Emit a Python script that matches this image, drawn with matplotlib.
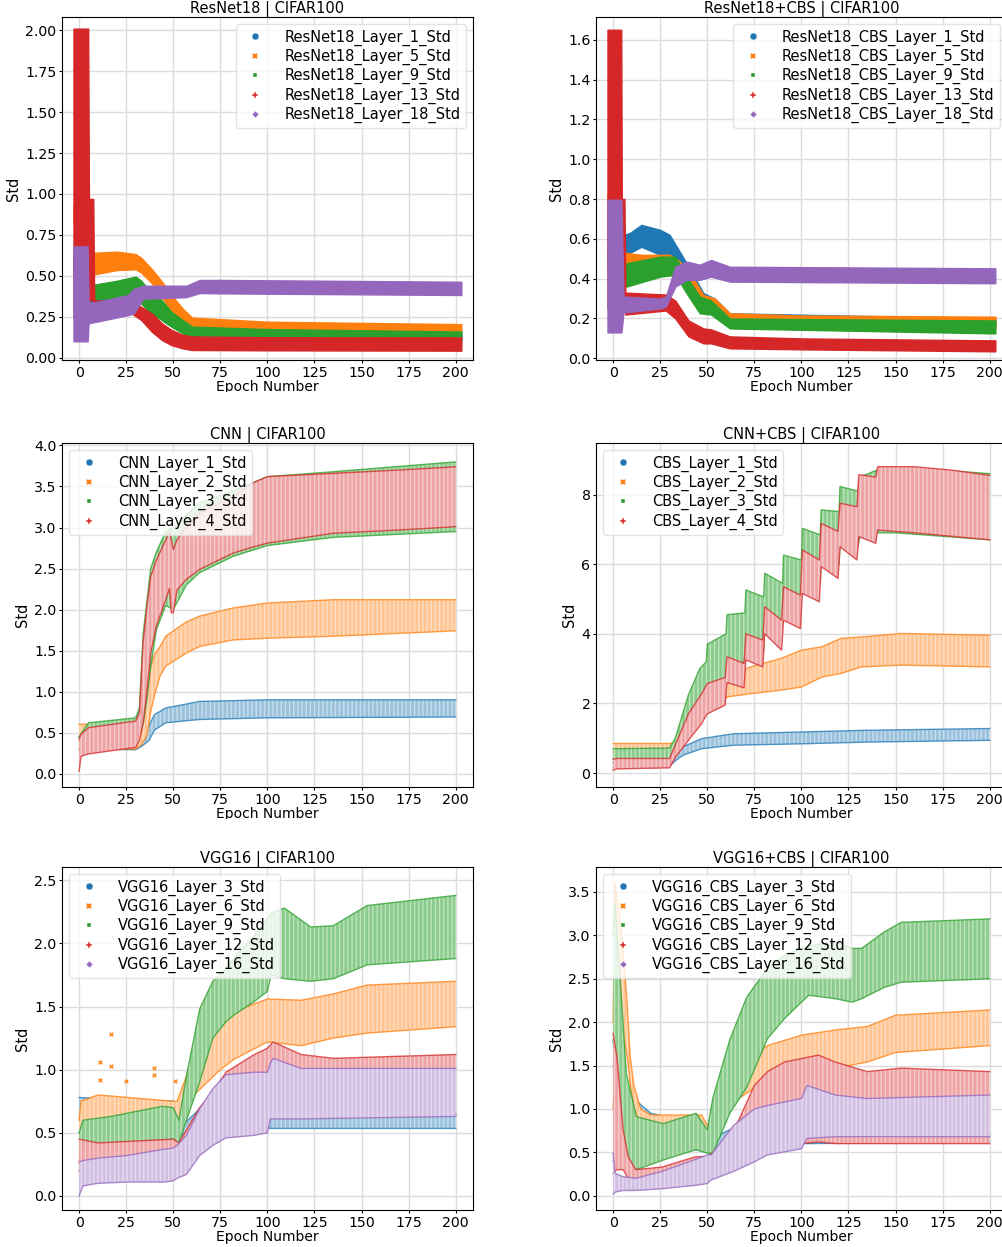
import matplotlib
matplotlib.use('Agg')
import matplotlib.pyplot as plt
from matplotlib.colors import to_rgb
from matplotlib.lines import Line2D
from matplotlib.transforms import Bbox, TransformedBbox

plt.rcParams['font.family'] = 'DejaVu Sans'
plt.rcParams['font.size'] = 10

COLORS = ['#1f77b4', '#ff7f0e', '#2ca02c', '#d62728', '#9467bd']
MARKERS = ['o', 'X', (4, 0, 45), 'P', (4, 0, 0)]

# ---------------- ResNet18 | CIFAR100 (band = min/max std per epoch) ----------------
R18_L1_EP = [-3, 4, 6, 9, 33, 45, 60, 203]
R18_L1_LO = [0.45, 0.45, 0.34, 0.33, 0.35, 0.22, 0.12, 0.11]
R18_L1_HI = [0.62, 0.62, 0.40, 0.38, 0.40, 0.30, 0.16, 0.15]
R18_L5_EP = [-3, 0, 3, 6, 20, 30, 33, 39, 44, 49, 55, 60, 100, 203]
R18_L5_LO = [0.82, 0.82, 0.55, 0.505, 0.535, 0.54, 0.52, 0.45, 0.37, 0.28, 0.22, 0.185, 0.17, 0.16]
R18_L5_HI = [0.93, 0.93, 0.66, 0.64, 0.648, 0.633, 0.61, 0.536, 0.464, 0.383, 0.30, 0.245, 0.22, 0.205]
R18_L9_EP = [5, 7, 20, 30, 33, 38, 44, 49, 55, 60, 100, 203]
R18_L9_LO = [0.35, 0.36, 0.363, 0.363, 0.33, 0.27, 0.23, 0.19, 0.149, 0.128, 0.115, 0.105]
R18_L9_HI = [0.44, 0.444, 0.47, 0.495, 0.47, 0.40, 0.35, 0.28, 0.23, 0.19, 0.175, 0.16]
R18_L13_EP = [-3, 4.8, 5.2, 7.5, 8, 28, 33, 38.6, 44, 49, 55, 60, 100, 203]
R18_L13_LO = [0.25, 0.25, 0.35, 0.35, 0.27, 0.27, 0.23, 0.159, 0.108, 0.077, 0.057, 0.047, 0.045, 0.043]
R18_L13_HI = [2.01, 2.01, 0.97, 0.97, 0.35, 0.35, 0.31, 0.27, 0.21, 0.17, 0.14, 0.13, 0.125, 0.124]
R18_L18_EP = [-3, 4.5, 5, 26, 29, 34, 57, 64, 75, 203]
R18_L18_LO = [0.10, 0.10, 0.21, 0.26, 0.27, 0.36, 0.37, 0.395, 0.393, 0.383]
R18_L18_HI = [0.68, 0.68, 0.33, 0.383, 0.42, 0.44, 0.44, 0.475, 0.475, 0.464]

# ---------------- ResNet18+CBS | CIFAR100 ----------------
RC_L1_EP = [-3, 4, 6, 9, 15, 25, 30, 38, 48, 54, 62, 203]
RC_L1_LO = [0.47, 0.47, 0.50, 0.53, 0.56, 0.52, 0.50, 0.40, 0.26, 0.24, 0.17, 0.16]
RC_L1_HI = [0.60, 0.60, 0.62, 0.63, 0.67, 0.645, 0.62, 0.494, 0.327, 0.30, 0.226, 0.20]
RC_L5_EP = [-3, 4.5, 6, 15, 30, 35, 43, 48, 54, 62, 100, 203]
RC_L5_LO = [0.50, 0.50, 0.41, 0.41, 0.42, 0.40, 0.30, 0.24, 0.22, 0.17, 0.155, 0.15]
RC_L5_HI = [0.83, 0.83, 0.53, 0.52, 0.52, 0.49, 0.394, 0.318, 0.30, 0.226, 0.215, 0.209]
RC_L9_EP = [6, 7, 25, 33, 39, 46, 52, 62, 203]
RC_L9_LO = [0.37, 0.36, 0.41, 0.42, 0.327, 0.226, 0.22, 0.15, 0.125]
RC_L9_HI = [0.45, 0.477, 0.511, 0.51, 0.41, 0.31, 0.29, 0.20, 0.19]
RC_L13_EP = [-3, 4.3, 4.6, 6, 6.5, 28, 33, 40, 48, 52, 62, 100, 203]
RC_L13_LO = [0.25, 0.25, 0.25, 0.25, 0.22, 0.24, 0.20, 0.11, 0.075, 0.075, 0.05, 0.045, 0.035]
RC_L13_HI = [1.65, 1.65, 0.80, 0.80, 0.33, 0.32, 0.29, 0.19, 0.15, 0.145, 0.11, 0.10, 0.09]
RC_L18_EP = [-3, 4.4, 5.5, 25, 28, 33, 39, 46, 52, 62, 203]
RC_L18_LO = [0.13, 0.13, 0.23, 0.25, 0.26, 0.36, 0.394, 0.394, 0.41, 0.385, 0.377]
RC_L18_HI = [0.796, 0.796, 0.31, 0.30, 0.31, 0.46, 0.486, 0.47, 0.494, 0.46, 0.452]

# ---------------- CNN | CIFAR100 ----------------
CNN_L1_EP = [0, 10, 30, 33, 37, 40, 46, 64, 100, 200]
CNN_L1_LO = [0.29, 0.30, 0.29, 0.33, 0.40, 0.53, 0.62, 0.66, 0.68, 0.69]
CNN_L1_HI = [0.45, 0.48, 0.50, 0.45, 0.58, 0.72, 0.80, 0.88, 0.90, 0.90]
CNN_L2_EP = [0, 30, 33, 36, 38, 40, 43, 46, 57, 64, 82, 100, 135, 200]
CNN_L2_LO = [0.30, 0.30, 0.35, 0.46, 0.75, 0.95, 1.19, 1.31, 1.47, 1.55, 1.63, 1.65, 1.675, 1.74]
CNN_L2_HI = [0.60, 0.62, 0.50, 1.00, 1.30, 1.45, 1.55, 1.675, 1.85, 1.92, 2.02, 2.08, 2.12, 2.12]
CNN_L3_EP = [0, 5, 30, 32, 34, 36, 38, 41, 46, 50, 57, 64, 82, 100, 135, 200]
CNN_L3_LO = [0.40, 0.45, 0.50, 0.50, 0.60, 0.90, 1.30, 1.75, 2.05, 2.00, 2.30, 2.45, 2.65, 2.78, 2.88, 2.95]
CNN_L3_HI = [0.45, 0.62, 0.68, 0.80, 1.70, 2.10, 2.50, 2.70, 2.95, 3.00, 3.15, 3.30, 3.45, 3.62, 3.68, 3.80]
CNN_L4_EP = [0, 1, 5, 30, 32, 34, 36, 38, 41, 46, 48, 49, 50, 52, 57, 64, 82, 92, 100, 135, 170, 200]
CNN_L4_LO = [0.03, 0.21, 0.24, 0.32, 0.40, 0.62, 1.00, 1.47, 1.80, 2.12, 2.26, 1.96, 1.96, 2.24, 2.37, 2.49,
             2.69, 2.76, 2.81, 2.93, 2.97, 3.01]
CNN_L4_HI = [0.42, 0.48, 0.56, 0.64, 0.74, 1.60, 2.04, 2.40, 2.60, 2.85, 2.95, 2.85, 2.73, 2.85, 3.01, 3.18,
             3.38, 3.54, 3.62, 3.66, 3.70, 3.74]

# ---------------- CNN+CBS | CIFAR100 ----------------
CBS_L1_EP = [0, 30, 33, 37, 47, 64, 100, 135, 200]
CBS_L1_LO = [0.15, 0.20, 0.35, 0.51, 0.70, 0.80, 0.84, 0.89, 0.94]
CBS_L1_HI = [0.40, 0.45, 0.50, 0.75, 0.99, 1.13, 1.18, 1.23, 1.28]
CBS_L2_EP = [0, 30, 33, 40, 46, 52, 61, 73, 89, 100, 111, 121, 132, 153, 200]
CBS_L2_LO = [0.60, 0.62, 0.70, 1.30, 1.60, 1.90, 2.19, 2.28, 2.38, 2.47, 2.76, 2.86, 3.05, 3.10, 3.05]
CBS_L2_HI = [0.85, 0.85, 0.90, 1.90, 2.30, 2.50, 2.80, 3.05, 3.29, 3.53, 3.63, 3.87, 3.91, 4.01, 3.96]
CBS_L3_EP = [0, 30, 33, 40, 46, 49.5, 50, 60, 60.5, 70, 70.5, 80, 80.5, 90, 90.5, 100, 100.5, 110, 110.5,
             120, 120.5, 130, 131, 140, 150, 175, 200]
CBS_L3_LO = [0.30, 0.35, 0.50, 1.50, 1.80, 2.00, 2.00, 2.50, 3.00, 3.20, 3.50, 3.50, 4.30, 4.30, 4.90, 4.90,
             5.50, 5.50, 6.00, 6.00, 6.50, 6.50, 6.80, 6.90, 6.90, 6.80, 6.70]
CBS_L3_HI = [0.70, 0.72, 1.00, 2.25, 3.00, 3.20, 3.70, 4.00, 4.55, 4.60, 5.26, 5.06, 5.74, 5.45, 6.26, 6.12,
             7.03, 6.84, 7.56, 7.51, 8.23, 8.10, 8.50, 8.70, 8.75, 8.70, 8.60]
CBS_L4_EP = [0, 2, 30, 33, 40, 47, 50, 59.5, 60.5, 69.5, 70.5, 79.5, 80.5, 89.5, 90.5, 99.5, 100.5, 109.5,
             110.5, 119.5, 120.5, 129.5, 130.5, 139.5, 140.5, 160, 180, 200]
CBS_L4_LO = [0.08, 0.12, 0.15, 0.45, 0.94, 1.42, 1.70, 1.95, 2.60, 2.45, 3.25, 3.05, 4.00, 3.53, 4.39, 4.15,
             5.16, 4.92, 5.93, 5.59, 6.50, 6.12, 6.79, 6.60, 6.98, 6.90, 6.80, 6.70]
CBS_L4_HI = [0.40, 0.42, 0.42, 0.80, 1.70, 2.28, 2.57, 2.75, 3.34, 3.15, 4.00, 3.82, 4.78, 4.39, 5.35, 5.11,
             6.41, 6.12, 7.17, 6.94, 7.75, 7.65, 8.57, 8.50, 8.80, 8.80, 8.70, 8.55]

# ---------------- VGG16 | CIFAR100 ----------------
VGG_L3_EP = [0, 50, 52, 57, 64, 75, 100, 101, 200]
VGG_L3_LO = [0.50, 0.50, 0.45, 0.51, 0.56, 0.55, 0.55, 0.535, 0.535]
VGG_L3_HI = [0.78, 0.75, 0.55, 0.59, 0.69, 0.70, 0.70, 0.64, 0.64]
VGG_L6_EP = [0, 1, 10, 50, 52, 57, 61, 68, 75, 82, 100, 118, 135, 153, 200]
VGG_L6_LO = [0.25, 0.45, 0.50, 0.50, 0.45, 0.65, 0.80, 0.90, 1.00, 1.08, 1.22, 1.19, 1.25, 1.29, 1.34]
VGG_L6_HI = [0.60, 0.75, 0.80, 0.75, 0.75, 0.95, 1.17, 1.27, 1.38, 1.46, 1.56, 1.55, 1.60, 1.67, 1.70]
VGG_L9_EP = [0, 2, 17, 44, 50, 53, 57, 64, 71, 78, 82, 93, 100, 102, 109, 123, 135, 153, 200]
VGG_L9_LO = [0.20, 0.26, 0.37, 0.44, 0.45, 0.42, 0.60, 0.90, 1.25, 1.38, 1.43, 1.54, 1.62, 1.75, 1.72, 1.70,
             1.72, 1.83, 1.88]
VGG_L9_HI = [0.50, 0.60, 0.63, 0.71, 0.70, 0.60, 0.95, 1.48, 1.70, 1.80, 1.88, 2.06, 2.20, 2.24, 2.28, 2.13,
             2.14, 2.30, 2.38]
VGG_L12_EP = [0, 10, 50, 53, 64, 71, 78, 93, 100, 103, 118, 135, 200]
VGG_L12_LO = [0.20, 0.25, 0.30, 0.30, 0.45, 0.60, 0.70, 0.75, 0.78, 0.65, 0.65, 0.65, 0.65]
VGG_L12_HI = [0.45, 0.42, 0.45, 0.42, 0.70, 0.82, 0.98, 1.12, 1.17, 1.22, 1.12, 1.09, 1.12]
VGG_L16_EP = [0, 2, 10, 25, 45, 50, 52, 57, 64, 71, 78, 93, 100, 101.5, 103, 118, 200]
VGG_L16_LO = [0.00, 0.08, 0.10, 0.11, 0.11, 0.12, 0.14, 0.17, 0.32, 0.40, 0.46, 0.48, 0.50, 0.61, 0.61, 0.61, 0.63]
VGG_L16_HI = [0.27, 0.28, 0.30, 0.32, 0.37, 0.38, 0.40, 0.48, 0.69, 0.85, 0.96, 0.98, 0.98, 1.05, 1.09, 1.01, 1.01]
VGG_L6_OUT_EP = [11, 17, 17, 25, 40, 40, 51, 11]
VGG_L6_OUT_Y = [1.06, 1.28, 1.03, 0.91, 1.01, 0.96, 0.91, 0.92]

# ---------------- VGG16+CBS | CIFAR100 ----------------
VC_L3_EP = [0, 5, 12, 20, 30, 50, 53, 58, 62, 75, 100, 103, 200]
VC_L3_LO = [0.40, 0.50, 0.60, 0.65, 0.60, 0.50, 0.48, 0.55, 0.60, 0.60, 0.60, 0.60, 0.62]
VC_L3_HI = [1.50, 1.20, 1.10, 0.95, 0.90, 0.80, 0.60, 0.72, 0.76, 0.75, 0.72, 0.68, 0.70]
VC_L6_EP = [0, 1, 3, 5, 7.5, 9, 11, 14.6, 20, 47, 50, 53, 58, 64, 75, 82, 100, 118, 135, 150, 200]
VC_L6_LO = [1.00, 1.50, 2.00, 1.90, 1.60, 1.30, 1.00, 0.80, 0.75, 0.72, 0.70, 0.60, 0.90, 1.08, 1.24, 1.27,
            1.39, 1.47, 1.54, 1.65, 1.73]
VC_L6_HI = [2.00, 3.60, 3.30, 2.90, 2.20, 1.62, 1.27, 1.00, 0.93, 0.93, 0.81, 0.90, 1.20, 1.35, 1.62, 1.73,
            1.85, 1.91, 1.95, 2.08, 2.14]
VC_L9_EP = [0, 1, 3.5, 5.3, 7, 12.4, 26.6, 44, 50, 53, 62, 71, 82, 91, 100, 104, 118, 127, 132, 144, 153, 200]
VC_L9_LO = [1.80, 1.50, 1.02, 0.45, 0.37, 0.30, 0.41, 0.53, 0.49, 0.49, 0.95, 1.25, 1.81, 2.04, 2.23, 2.31,
            2.27, 2.23, 2.27, 2.40, 2.46, 2.50]
VC_L9_HI = [3.00, 3.38, 2.56, 1.98, 1.41, 0.91, 0.83, 0.95, 0.76, 1.13, 1.80, 2.29, 2.62, 2.77, 2.85, 2.88,
            2.92, 2.85, 2.85, 3.04, 3.15, 3.19]
VC_L12_EP = [0, 2, 5.3, 8, 12, 26, 44, 50, 53, 64, 75, 82, 91, 100, 109, 118, 135, 153, 200]
VC_L12_LO = [0.26, 0.30, 0.30, 0.20, 0.15, 0.15, 0.20, 0.20, 0.25, 0.40, 0.50, 0.55, 0.58, 0.60, 0.62, 0.60,
             0.60, 0.60, 0.60]
VC_L12_HI = [1.87, 1.60, 0.76, 0.45, 0.30, 0.33, 0.45, 0.45, 0.50, 0.74, 1.27, 1.43, 1.54, 1.58, 1.62, 1.54,
             1.43, 1.47, 1.43]
VC_L16_EP = [0, 1, 5, 12, 26, 44, 50, 52, 64, 75, 82, 100, 103, 118, 135, 200]
VC_L16_LO = [0.02, 0.04, 0.06, 0.06, 0.08, 0.12, 0.14, 0.18, 0.28, 0.39, 0.47, 0.54, 0.66, 0.68, 0.68, 0.68]
VC_L16_HI = [0.49, 0.26, 0.22, 0.20, 0.28, 0.42, 0.47, 0.47, 0.81, 1.00, 1.04, 1.12, 1.27, 1.16, 1.12, 1.16]

panels = [
    dict(title='ResNet18 | CIFAR100', solid=True, loc='upper right',
         ylim=(-0.014, 2.081), yticks=[0, 0.25, 0.5, 0.75, 1.0, 1.25, 1.5, 1.75, 2.0], fmt='%.2f',
         box=(62, 17, 411, 343),
         series=[('ResNet18_Layer_1_Std', R18_L1_EP, R18_L1_LO, R18_L1_HI),
                 ('ResNet18_Layer_5_Std', R18_L5_EP, R18_L5_LO, R18_L5_HI),
                 ('ResNet18_Layer_9_Std', R18_L9_EP, R18_L9_LO, R18_L9_HI),
                 ('ResNet18_Layer_13_Std', R18_L13_EP, R18_L13_LO, R18_L13_HI),
                 ('ResNet18_Layer_18_Std', R18_L18_EP, R18_L18_LO, R18_L18_HI)]),
    dict(title='ResNet18+CBS | CIFAR100', solid=True, loc='upper right',
         ylim=(-0.0085, 1.714), yticks=[0, 0.2, 0.4, 0.6, 0.8, 1.0, 1.2, 1.4, 1.6], fmt='%.1f',
         box=(596, 17, 411, 343),
         series=[('ResNet18_CBS_Layer_1_Std', RC_L1_EP, RC_L1_LO, RC_L1_HI),
                 ('ResNet18_CBS_Layer_5_Std', RC_L5_EP, RC_L5_LO, RC_L5_HI),
                 ('ResNet18_CBS_Layer_9_Std', RC_L9_EP, RC_L9_LO, RC_L9_HI),
                 ('ResNet18_CBS_Layer_13_Std', RC_L13_EP, RC_L13_LO, RC_L13_HI),
                 ('ResNet18_CBS_Layer_18_Std', RC_L18_EP, RC_L18_LO, RC_L18_HI)]),
    dict(title='CNN | CIFAR100', solid=False, loc='upper left',
         ylim=(-0.163, 4.03), yticks=[0, 0.5, 1.0, 1.5, 2.0, 2.5, 3.0, 3.5, 4.0], fmt='%.1f',
         box=(62, 443, 411, 344),
         series=[('CNN_Layer_1_Std', CNN_L1_EP, CNN_L1_LO, CNN_L1_HI),
                 ('CNN_Layer_2_Std', CNN_L2_EP, CNN_L2_LO, CNN_L2_HI),
                 ('CNN_Layer_3_Std', CNN_L3_EP, CNN_L3_LO, CNN_L3_HI),
                 ('CNN_Layer_4_Std', CNN_L4_EP, CNN_L4_LO, CNN_L4_HI)]),
    dict(title='CNN+CBS | CIFAR100', solid=False, loc='upper left',
         ylim=(-0.40, 9.48), yticks=[0, 2, 4, 6, 8], fmt='%d',
         box=(596, 443, 411, 344),
         series=[('CBS_Layer_1_Std', CBS_L1_EP, CBS_L1_LO, CBS_L1_HI),
                 ('CBS_Layer_2_Std', CBS_L2_EP, CBS_L2_LO, CBS_L2_HI),
                 ('CBS_Layer_3_Std', CBS_L3_EP, CBS_L3_LO, CBS_L3_HI),
                 ('CBS_Layer_4_Std', CBS_L4_EP, CBS_L4_LO, CBS_L4_HI)]),
    dict(title='VGG16 | CIFAR100', solid=False, loc='upper left',
         ylim=(-0.111, 2.605), yticks=[0, 0.5, 1.0, 1.5, 2.0, 2.5], fmt='%.1f',
         box=(62, 867, 411, 343),
         series=[('VGG16_Layer_3_Std', VGG_L3_EP, VGG_L3_LO, VGG_L3_HI),
                 ('VGG16_Layer_6_Std', VGG_L6_EP, VGG_L6_LO, VGG_L6_HI),
                 ('VGG16_Layer_9_Std', VGG_L9_EP, VGG_L9_LO, VGG_L9_HI),
                 ('VGG16_Layer_12_Std', VGG_L12_EP, VGG_L12_LO, VGG_L12_HI),
                 ('VGG16_Layer_16_Std', VGG_L16_EP, VGG_L16_LO, VGG_L16_HI)]),
    dict(title='VGG16+CBS | CIFAR100', solid=False, loc='upper left',
         ylim=(-0.165, 3.788), yticks=[0, 0.5, 1.0, 1.5, 2.0, 2.5, 3.0, 3.5], fmt='%.1f',
         box=(596, 867, 411, 343),
         series=[('VGG16_CBS_Layer_3_Std', VC_L3_EP, VC_L3_LO, VC_L3_HI),
                 ('VGG16_CBS_Layer_6_Std', VC_L6_EP, VC_L6_LO, VC_L6_HI),
                 ('VGG16_CBS_Layer_9_Std', VC_L9_EP, VC_L9_LO, VC_L9_HI),
                 ('VGG16_CBS_Layer_12_Std', VC_L12_EP, VC_L12_LO, VC_L12_HI),
                 ('VGG16_CBS_Layer_16_Std', VC_L16_EP, VC_L16_LO, VC_L16_HI)]),
]

# how much of each colour the light (small-marker) bands keep
TINT = [0.45, 0.45, 0.55, 0.42, 0.42]

W, H = 1002, 1247
fig = plt.figure(figsize=(W / 100, H / 100), dpi=100)


def tint(c, a):
    r, g, b = to_rgb(c)
    return (1 - a + a * r, 1 - a + a * g, 1 - a + a * b)


# cut lines of the x labels for the two upper rows (the source images were cropped)
clip_rows = {17: 392, 443: 819}

for p in panels:
    x0, y0, w, h = p['box']
    ax = fig.add_axes([x0 / W, 1 - (y0 + h) / H, w / W, h / H])
    ax.set_axisbelow(True)
    ax.grid(True, color='#dcdcdc', lw=1.0)
    handles = []
    for i, (name, ep, lo, hi) in enumerate(p['series']):
        c = COLORS[i]
        z = 2 + i
        if p['solid']:
            ax.fill_between(ep, lo, hi, facecolor=c, edgecolor=c, lw=1.0, zorder=z)
        else:
            ax.fill_between(ep, lo, hi, facecolor=tint(c, TINT[i]), edgecolor='none', zorder=z)
            ax.fill_between(ep, lo, hi, facecolor='none', edgecolor=(1, 1, 1, 0.45), hatch='||||',
                            lw=0, zorder=z)
            ax.plot(ep, lo, color=c, lw=1.0, alpha=0.75, zorder=z)
            ax.plot(ep, hi, color=c, lw=1.0, alpha=0.75, zorder=z)
        handles.append(Line2D([], [], ls='none', marker=MARKERS[i], color=c, markersize=5,
                              markeredgecolor='white', markeredgewidth=0.3, label=name))
    if p['title'] == 'VGG16 | CIFAR100':
        ax.scatter(VGG_L6_OUT_EP, VGG_L6_OUT_Y, marker='X', s=14, color=COLORS[1],
                   edgecolors='white', linewidths=0.3, zorder=3)

    ax.set_xlim(-9.1, 209.2)
    ax.set_xticks(range(0, 201, 25))
    ax.set_ylim(*p['ylim'])
    ax.set_yticks(p['yticks'])
    ax.set_yticklabels([p['fmt'] % t for t in p['yticks']])
    ax.set_title(p['title'], fontsize=10.5, pad=3)
    ax.set_xlabel('Epoch Number', fontsize=10, labelpad=0)
    ax.set_ylabel('Std', fontsize=10.5, labelpad=3)
    ax.tick_params(labelsize=10.2, length=2.5, pad=1.5)
    ax.legend(handles=handles, loc=p['loc'], fontsize=10.5, handletextpad=1.0,
              borderpad=0.35, labelspacing=0.22, framealpha=0.8, edgecolor='#dddddd')

    if y0 in clip_rows:
        cut = clip_rows[y0]
        lab = ax.xaxis.label
        lab.set_clip_on(True)
        lab.set_clip_box(TransformedBbox(Bbox([[0, 1 - cut / H], [1, 1]]), fig.transFigure))

fig.savefig('out.png', dpi=100)
